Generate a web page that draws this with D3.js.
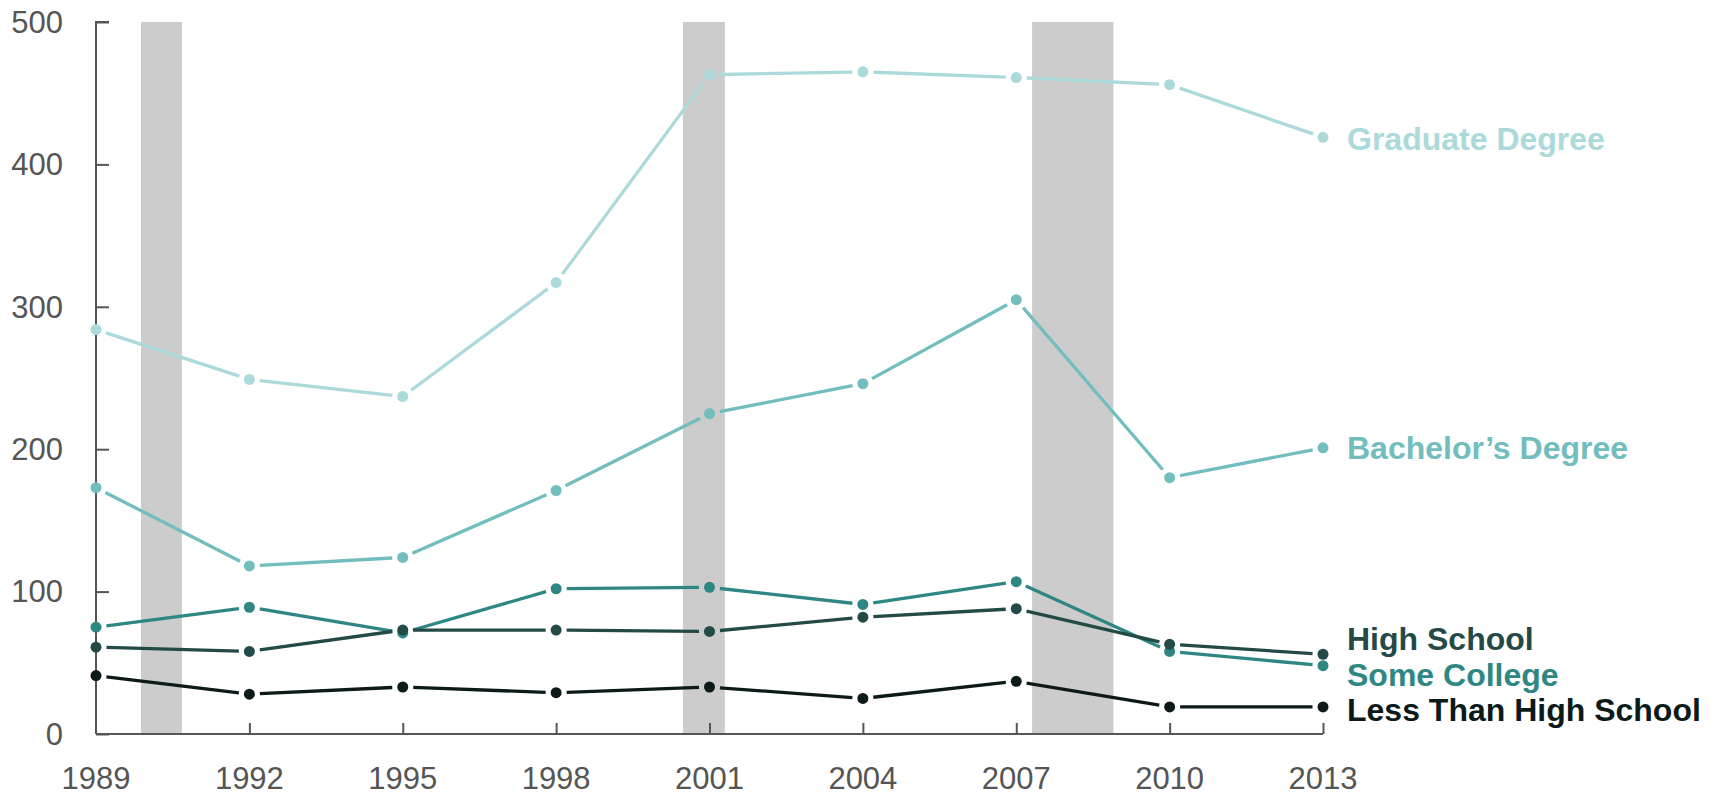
<!DOCTYPE html>
<html>
<head>
<meta charset="utf-8">
<script src="https://cdn.jsdelivr.net/npm/d3@7"></script>
<style>
  html, body { margin: 0; padding: 0; background: #fff; }
  svg { display: block; font-family: "Liberation Sans", Arial, sans-serif; }
</style>
</head>
<body>
<svg id="chart" width="1719" height="795"></svg>
<script>
// ---- data ----
const years = [1989, 1992, 1995, 1998, 2001, 2004, 2007, 2010, 2013];
const seriesNames = ["Graduate Degree", "Bachelor’s Degree", "Some College", "High School", "Less Than High School"];
const graduate     = [284, 249, 237, 317, 463, 465, 461, 456, 419];
const bachelor     = [173, 118, 124, 171, 225, 246, 305, 180, 201];
const someCollege  = [75, 89, 71, 102, 103, 91, 107, 58, 48];
const highSchool   = [61, 58, 73, 73, 72, 82, 88, 63, 56];
const lessThanHS   = [41, 28, 33, 29, 33, 25, 37, 19, 19];
const recessionStart = [1989.88, 2000.48, 2007.31];
const recessionEnd   = [1990.68, 2001.30, 2008.90];
const yTicks = [0, 100, 200, 300, 400, 500];
const xTicks = years;

// ---- styles/layout ----
const colors = ["#acdadb", "#72bdbd", "#2f8784", "#234a47", "#0c1a1a"];
const labelDy = [1, 0, 9, -15, 3]; // pixel nudges to avoid overlap
const allValues = [graduate, bachelor, someCollege, highSchool, lessThanHS];

const svg = d3.select("#chart");
const x = d3.scaleLinear().domain([1989, 2013]).range([96, 1323]);
const y = d3.scaleLinear().domain([0, 500]).range([734, 22]);

// recession bars
svg.append("g").selectAll("rect")
  .data(recessionStart.map((s, i) => [s, recessionEnd[i]]))
  .join("rect")
  .attr("x", d => x(d[0]))
  .attr("width", d => x(d[1]) - x(d[0]))
  .attr("y", y(500))
  .attr("height", y(0) - y(500))
  .attr("fill", "#cccccc");

// axes
const axisColor = "#555555";
const yAxis = svg.append("g")
  .attr("transform", `translate(${x(1989)},0)`)
  .call(d3.axisRight(y).tickValues(yTicks).tickSize(13).tickFormat(""));
yAxis.select(".domain").attr("d", `M13,${y(500)}H0V${y(0)}`);
const xAxis = svg.append("g")
  .attr("transform", `translate(0,${y(0)})`)
  .call(d3.axisTop(x).tickValues(xTicks.slice(1)).tickSize(11).tickFormat(""));
xAxis.select(".domain").attr("d", `M${x(1989)},0H${x(2013)}`);
svg.selectAll(".domain").attr("stroke", axisColor).attr("stroke-width", 2);
svg.selectAll(".tick line").attr("stroke", axisColor).attr("stroke-width", 2);

// tick labels
svg.append("g").selectAll("text").data(yTicks).join("text")
  .attr("x", 63).attr("y", d => y(d)).attr("dy", "0.35em")
  .attr("text-anchor", "end").attr("font-size", 31).attr("fill", axisColor)
  .text(d => d);
svg.append("g").selectAll("text").data(xTicks).join("text")
  .attr("x", d => x(d)).attr("y", 778).attr("dy", "0.35em")
  .attr("text-anchor", "middle").attr("font-size", 31).attr("fill", axisColor)
  .text(d => d);

// lines with gaps around markers
const r = 5.5, gap = 10.5;
const lineGen = d3.line();
allValues.forEach((vals, si) => {
  const g = svg.append("g");
  const pts = vals.map((v, i) => [x(years[i]), y(v)]);
  for (let i = 0; i < pts.length - 1; i++) {
    const [x0, y0] = pts[i], [x1, y1] = pts[i + 1];
    const dx = x1 - x0, dy = y1 - y0, L = Math.hypot(dx, dy);
    const ux = dx / L, uy = dy / L;
    g.append("path")
      .attr("d", lineGen([[x0 + ux * gap, y0 + uy * gap], [x1 - ux * gap, y1 - uy * gap]]))
      .attr("stroke", colors[si]).attr("stroke-width", 3.3).attr("fill", "none");
  }
  g.selectAll("circle").data(pts).join("circle")
    .attr("cx", d => d[0]).attr("cy", d => d[1]).attr("r", r)
    .attr("fill", colors[si]);
  svg.append("text")
    .attr("x", 1347)
    .attr("y", y(vals[vals.length - 1]) + labelDy[si])
    .attr("dy", "0.35em")
    .attr("font-size", 32).attr("font-weight", "bold")
    .attr("fill", colors[si])
    .text(seriesNames[si]);
});
</script>
</body>
</html>
